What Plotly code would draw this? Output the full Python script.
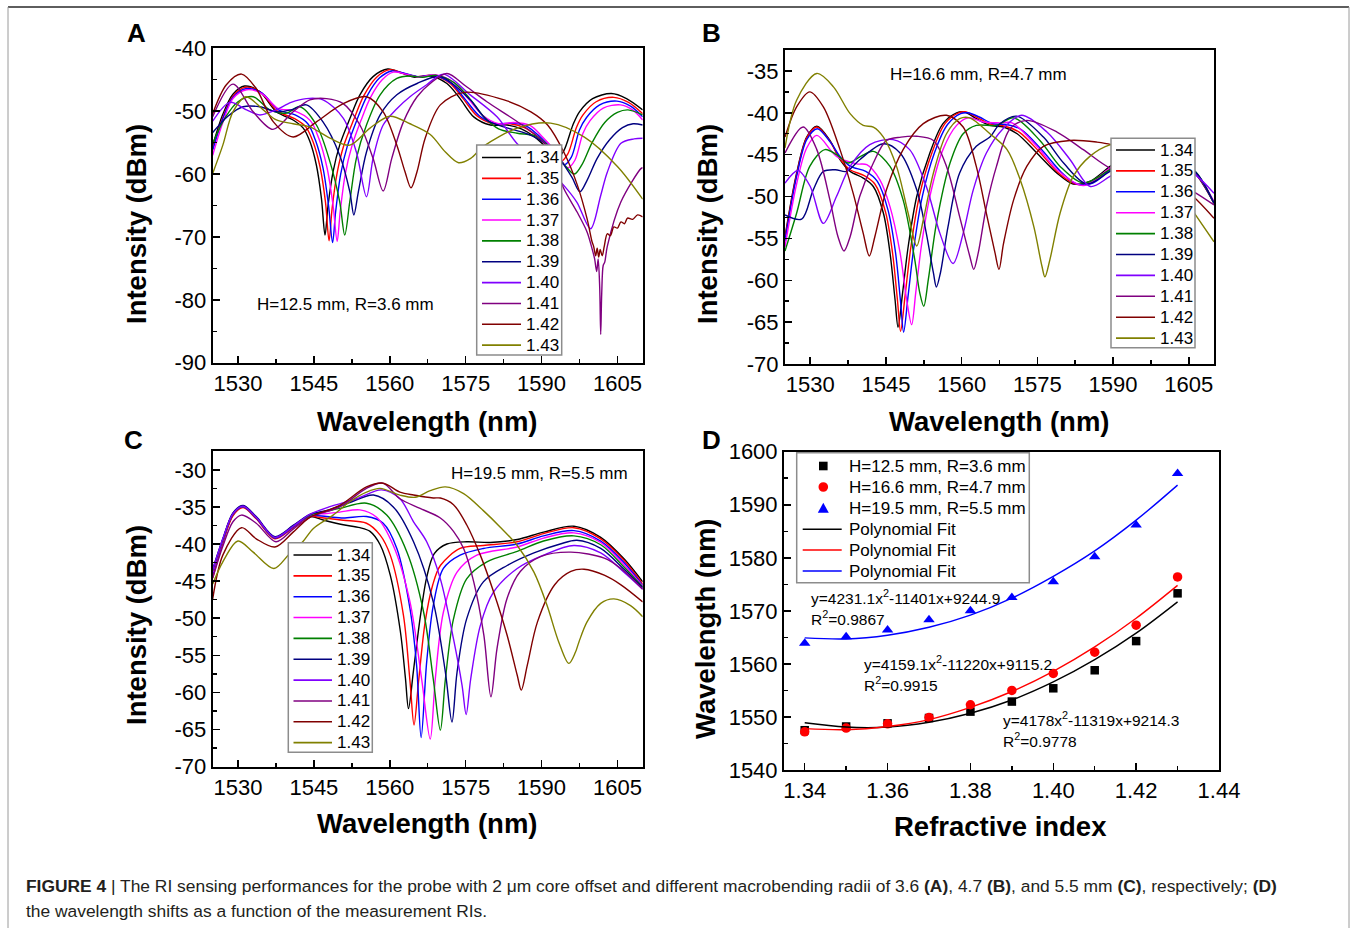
import plotly.graph_objects as go

W, H = 1356, 928
FONT = "Liberation Sans, Arial, Helvetica, sans-serif"

RI_LABELS = ["1.34", "1.35", "1.36", "1.37", "1.38", "1.39", "1.40", "1.41", "1.42", "1.43"]
COLORS = ["#000000", "#FF0000", "#0000FF", "#FF00FF", "#008000",
          "#000080", "#8000FF", "#800080", "#800000", "#808000"]

# ---------------- Panel A (H=12.5 mm, R=3.6 mm) ----------------
A134_x = [1525, 1527, 1529, 1531.3, 1534.3, 1537.6, 1540.9, 1542.9, 1544.2, 1545.5, 1546.5, 1547.2, 1547.8, 1548.8, 1550.1, 1552.1, 1554.1, 1556.7, 1559.6, 1562.5, 1565, 1568, 1571.3, 1573.9, 1576.6, 1579.9, 1583.2, 1586, 1588.5, 1591, 1593, 1594.4, 1596.2, 1597.5, 1600.1, 1603.8, 1606.8, 1610]
A134_y = [-55.5, -50.5, -47.3, -46.0, -46.9, -50.1, -51.4, -52.7, -54.8, -58.6, -63.9, -69.7, -65.0, -59.6, -55.4, -51.2, -47.4, -44.5, -43.3, -44.0, -44.6, -44.4, -45.6, -48.0, -50.9, -52.2, -52.2, -52.8, -54.0, -55.8, -57.5, -56.3, -52.2, -50.1, -48.0, -47.2, -48.0, -49.8]
A135_x = [1525, 1527, 1529, 1531.5, 1534.5, 1537.8, 1541.2, 1543.4, 1544.8, 1546.2, 1547.3, 1548.0, 1548.6, 1549.6, 1550.9, 1552.9, 1554.9, 1557.4, 1560.0, 1562.8, 1565.3, 1568.3, 1571.8, 1574.5, 1577.2, 1580.5, 1583.8, 1586.6, 1589.1, 1591.6, 1593.8, 1595.2, 1596.9, 1598.2, 1600.8, 1604.3, 1607.2, 1610]
A135_y = [-56.0, -51.0, -47.6, -46.2, -47.0, -50.0, -51.2, -52.5, -54.8, -58.8, -64.5, -70.6, -65.5, -59.8, -55.5, -51.3, -47.5, -44.6, -43.4, -44.0, -44.5, -44.3, -45.5, -48.0, -50.7, -52.0, -52.0, -52.6, -54.0, -56.0, -58.0, -56.8, -52.6, -50.6, -48.5, -47.8, -48.6, -50.4]
A136_x = [1525, 1527, 1529, 1531.7, 1534.7, 1538.0, 1541.3, 1543.8, 1545.3, 1546.8, 1547.9, 1548.7, 1549.3, 1550.3, 1551.6, 1553.5, 1555.5, 1558.0, 1560.4, 1563.0, 1565.6, 1568.6, 1572.2, 1575.0, 1577.8, 1581.0, 1584.3, 1587.1, 1589.6, 1592.2, 1594.5, 1595.9, 1597.5, 1598.9, 1601.5, 1604.9, 1607.6, 1610]
A136_y = [-56.2, -51.2, -47.8, -46.4, -47.1, -49.8, -50.6, -52.0, -54.6, -59.0, -65.0, -70.9, -66.0, -60.0, -55.6, -51.4, -47.6, -44.7, -43.6, -44.0, -44.5, -44.3, -45.6, -48.2, -50.8, -52.0, -51.9, -52.4, -54.0, -56.2, -58.5, -57.3, -53.0, -51.0, -49.0, -48.4, -49.2, -50.9]
A137_x = [1525, 1527, 1529, 1531.7, 1534.7, 1538.0, 1541.0, 1544.3, 1546.0, 1547.6, 1548.8, 1549.6, 1550.2, 1551.2, 1552.5, 1554.3, 1556.2, 1558.5, 1560.7, 1563.2, 1565.8, 1569.0, 1572.6, 1575.5, 1578.3, 1581.5, 1584.5, 1587.8, 1590.3, 1592.9, 1595.2, 1596.6, 1598.2, 1599.6, 1602.2, 1605.6, 1608.0, 1610]
A137_y = [-57.0, -51.8, -48.0, -46.6, -47.2, -49.6, -49.9, -51.5, -54.4, -59.0, -65.0, -70.7, -66.0, -60.0, -55.6, -51.5, -47.8, -45.0, -43.8, -44.1, -44.6, -44.2, -45.4, -48.0, -50.6, -52.0, -51.8, -52.3, -54.2, -56.5, -59.0, -57.8, -53.5, -51.5, -49.5, -49.0, -49.8, -51.4]
A138_x = [1525, 1527.5, 1530, 1533.0, 1536.3, 1539.6, 1542.2, 1545.5, 1548.2, 1550.1, 1551.1, 1552.1, 1553.4, 1555.4, 1558.1, 1561.4, 1564.0, 1566.5, 1569.3, 1572.8, 1575.8, 1578.5, 1581.5, 1585.2, 1589.0, 1592.0, 1594.5, 1596.5, 1598.0, 1600.0, 1602.5, 1605.0, 1607.1, 1610]
A138_y = [-55.1, -51.0, -48.5, -47.7, -49.8, -50.3, -49.3, -52.2, -58.1, -64.4, -69.7, -64.4, -57.5, -52.2, -47.4, -44.8, -44.4, -44.6, -44.3, -45.5, -48.0, -50.8, -52.8, -53.5, -54.0, -56.0, -58.5, -60.0, -58.5, -55.0, -51.8, -50.2, -49.8, -50.6]
A139_x = [1525, 1528, 1531.0, 1534.3, 1537.6, 1540.5, 1543.5, 1546.8, 1550.1, 1552.1, 1552.9, 1553.8, 1555.4, 1558.1, 1561.4, 1565.4, 1570.0, 1575.9, 1579.2, 1582.5, 1587.2, 1590.5, 1593.5, 1596.0, 1597.6, 1599.0, 1601.0, 1603.5, 1606.0, 1608.1, 1610]
A139_y = [-53.4, -50.8, -49.3, -49.3, -50.1, -49.8, -49.0, -51.7, -57.0, -62.8, -66.5, -62.8, -56.5, -50.6, -47.4, -45.6, -44.5, -48.2, -51.4, -52.5, -53.6, -55.0, -57.5, -60.5, -62.8, -61.0, -57.5, -54.5, -52.6, -52.0, -52.2]
A140_x = [1525, 1528.4, 1531.7, 1534.3, 1537.5, 1540.5, 1543.5, 1546.8, 1550.8, 1553.4, 1555.4, 1556.7, 1558.7, 1561.4, 1564.0, 1567.3, 1570.6, 1575.9, 1581.2, 1585.1, 1588.0, 1591.0, 1594.4, 1597.0, 1599.7, 1601.7, 1603.0, 1605.7, 1608.3, 1610]
A140_y = [-51.6, -48.6, -49.8, -50.6, -49.8, -48.6, -48.0, -48.2, -51.1, -56.5, -63.6, -57.5, -52.2, -49.6, -47.7, -45.8, -44.1, -47.4, -50.9, -55.1, -57.0, -59.0, -61.8, -64.5, -68.7, -63.4, -59.7, -55.1, -54.4, -54.3]
A141_x = [1525, 1529.0, 1533.0, 1536.9, 1540.9, 1544.2, 1547.5, 1550.8, 1554.1, 1556.7, 1558.7, 1560.4, 1562.7, 1565.4, 1568.0, 1571.3, 1575.0, 1579.2, 1585.8, 1591.0, 1594.4, 1597.0, 1599.0, 1600.0, 1600.5, 1600.9, 1601.2, 1601.5, 1601.7, 1601.9, 1602.2, 1602.5, 1603.0, 1605.7, 1609.7, 1610]
A141_y = [-50.9, -45.7, -50.1, -52.9, -50.1, -48.2, -48.0, -48.8, -52.2, -57.5, -62.7, -57.5, -51.7, -47.7, -45.6, -44.0, -46.0, -48.5, -52.0, -55.4, -62.3, -66.0, -69.2, -71.9, -73.5, -75.5, -73.5, -78.0, -85.5, -79.0, -74.5, -74.0, -71.5, -64.4, -59.1, -59.0]
A142_x = [1525, 1527.7, 1530.7, 1533.6, 1537.0, 1540.9, 1545.5, 1550.8, 1555.4, 1558.7, 1561.4, 1563.0, 1564.2, 1565.4, 1567.0, 1570.0, 1574.7, 1582.6, 1587.9, 1591.2, 1594.4, 1597.1, 1599.0, 1600.0, 1600.3, 1600.7, 1601.0, 1601.3, 1601.6, 1602.0, 1602.4, 1603.0, 1603.6, 1604.3, 1605.0, 1605.7, 1606.4, 1607.0, 1608.0, 1609.0, 1610]
A142_y = [-50.4, -45.8, -44.1, -46.4, -51.7, -54.1, -51.7, -48.8, -47.7, -50.1, -55.4, -59.6, -62.2, -59.6, -54.3, -49.0, -47.0, -48.2, -50.1, -52.2, -56.5, -61.8, -67.1, -70.8, -71.5, -73.0, -71.8, -73.2, -72.0, -73.0, -71.5, -69.5, -69.8, -68.4, -68.6, -67.6, -67.9, -67.0, -67.2, -66.5, -66.8]
A143_x = [1525, 1527.0, 1529.0, 1531.6, 1535.0, 1537.6, 1540.9, 1544.2, 1548.2, 1552.1, 1556.1, 1560.0, 1564.0, 1568.0, 1571.0, 1573.6, 1576.0, 1578.5, 1585.2, 1591.8, 1598.4, 1605.0, 1610]
A143_y = [-59.9, -55.4, -50.1, -47.7, -49.8, -51.4, -52.0, -52.5, -54.3, -55.4, -52.7, -50.8, -52.0, -53.7, -56.5, -58.2, -57.5, -55.6, -52.7, -51.9, -54.1, -58.8, -64.0]

# ---------------- Panel B (H=16.6 mm, R=4.7 mm) ----------------
B134_x = [1525, 1527.3, 1529.3, 1531.3, 1533.9, 1535.9, 1537.9, 1540.5, 1542.5, 1544.5, 1545.8, 1546.8, 1547.4, 1548.3, 1549.4, 1551.1, 1553.7, 1556.3, 1559.0, 1560.6, 1562.9, 1565.6, 1568.3, 1571.0, 1574.9, 1578.9, 1582.1, 1585.4, 1589.4, 1593.0, 1597.0, 1601.0, 1605.9, 1610]
B134_y = [-54.8, -47.2, -42.9, -41.6, -43.3, -45.6, -47.0, -47.8, -48.8, -52.0, -56.7, -62.3, -65.6, -61.5, -56.0, -50.0, -44.8, -41.3, -40.0, -39.9, -40.7, -41.5, -41.7, -42.5, -44.8, -47.2, -48.5, -48.2, -46.4, -45.0, -44.6, -45.3, -47.0, -50.8]
B135_x = [1525, 1527.3, 1529.3, 1531.3, 1533.9, 1535.9, 1537.9, 1540.7, 1542.8, 1544.9, 1546.3, 1547.3, 1547.9, 1548.8, 1549.9, 1551.6, 1554.1, 1556.7, 1559.4, 1560.9, 1563.2, 1565.9, 1568.6, 1571.4, 1575.3, 1579.2, 1582.5, 1585.7, 1589.6, 1593.2, 1597.2, 1601.2, 1606.0, 1610]
B135_y = [-55.0, -47.4, -43.0, -41.7, -43.4, -45.5, -46.8, -47.5, -48.5, -51.8, -56.7, -62.5, -66.1, -61.8, -56.2, -50.0, -44.8, -41.3, -40.0, -39.9, -40.6, -41.4, -41.6, -42.3, -44.6, -47.2, -48.5, -48.3, -46.5, -45.0, -44.6, -45.3, -47.0, -50.8]
B136_x = [1525, 1527.3, 1529.3, 1531.4, 1534.0, 1536.0, 1538.0, 1541.0, 1543.3, 1545.4, 1546.9, 1547.9, 1548.5, 1549.4, 1550.5, 1552.2, 1554.6, 1557.2, 1559.8, 1561.2, 1563.5, 1566.2, 1568.9, 1571.8, 1575.7, 1579.6, 1582.8, 1586.0, 1589.8, 1593.4, 1597.4, 1601.4, 1606.1, 1610]
B136_y = [-55.3, -47.6, -43.2, -41.9, -43.5, -45.3, -46.4, -47.0, -48.2, -51.6, -56.7, -62.6, -66.2, -61.8, -56.2, -50.0, -44.8, -41.4, -40.1, -40.0, -40.5, -41.3, -41.4, -42.0, -44.3, -47.0, -48.5, -48.4, -46.6, -45.1, -44.6, -45.3, -47.0, -50.8]
B137_x = [1525, 1527.3, 1529.3, 1531.3, 1535.2, 1539.2, 1541.2, 1543.8, 1545.8, 1547.8, 1549.1, 1550.1, 1550.9, 1552.0, 1553.7, 1556.3, 1559.0, 1561.3, 1564.3, 1567.6, 1570.0, 1574.9, 1578.9, 1584.1, 1589.4, 1593.6, 1597.6, 1601.6, 1606.2, 1610]
B137_y = [-56.0, -48.5, -44.2, -42.7, -45.2, -46.1, -46.2, -48.0, -51.2, -56.7, -62.3, -65.3, -61.5, -56.0, -50.0, -44.4, -41.5, -40.6, -41.1, -41.2, -41.2, -44.0, -46.8, -48.7, -46.6, -45.2, -44.7, -45.3, -47.0, -50.6]
B138_x = [1525, 1527.3, 1529.9, 1532.9, 1535.2, 1537.5, 1540.0, 1542.5, 1545.8, 1548.4, 1550.7, 1551.7, 1552.5, 1553.4, 1555.0, 1557.7, 1560.3, 1562.9, 1566.9, 1570.3, 1575.5, 1579.5, 1584.1, 1589.4, 1593.8, 1597.8, 1601.8, 1606.3, 1610]
B138_y = [-56.5, -52.0, -46.4, -44.4, -45.0, -46.0, -45.2, -44.6, -46.4, -50.4, -57.5, -61.5, -63.1, -59.9, -53.2, -46.0, -42.5, -41.5, -41.5, -40.6, -43.3, -46.4, -48.4, -46.8, -45.3, -44.8, -45.4, -47.0, -50.8]
B139_x = [1525, 1528.3, 1530.6, 1532.6, 1535.0, 1537.2, 1539.8, 1544.5, 1547.8, 1551.1, 1553.0, 1554.4, 1555.0, 1555.8, 1557.3, 1559.6, 1562.9, 1565.6, 1567.6, 1570.9, 1576.2, 1580.2, 1584.8, 1589.4, 1594.0, 1598.0, 1602.0, 1606.4, 1610]
B139_y = [-52.2, -52.7, -49.2, -47.0, -46.8, -47.0, -45.6, -43.7, -44.8, -49.2, -54.4, -59.1, -60.8, -59.1, -53.6, -47.2, -44.0, -42.9, -41.3, -40.4, -42.9, -46.0, -48.5, -47.0, -45.4, -44.9, -45.5, -47.1, -50.8]
B140_x = [1525, 1527.6, 1530.0, 1532.6, 1535.2, 1537.9, 1541.8, 1546.4, 1549.7, 1553.0, 1555.7, 1558.3, 1560.3, 1562.3, 1564.9, 1568.2, 1571.9, 1576.9, 1581.5, 1585.5, 1589.4, 1594.2, 1598.5, 1602.5, 1606.5, 1610]
B140_y = [-48.4, -46.9, -48.8, -53.2, -50.0, -46.4, -43.8, -43.2, -44.4, -48.8, -54.4, -58.0, -54.4, -49.2, -44.8, -41.9, -40.3, -42.3, -45.6, -48.8, -47.6, -46.0, -45.5, -46.0, -47.5, -49.6]
B141_x = [1525, 1528.6, 1531.3, 1533.9, 1535.5, 1536.7, 1537.9, 1539.8, 1542.5, 1545.1, 1548.0, 1551.1, 1554.4, 1557.0, 1559.6, 1561.6, 1562.4, 1563.3, 1564.9, 1566.9, 1569.6, 1572.9, 1578.9, 1584.1, 1589.4, 1594.5, 1599.0, 1602.5, 1605.9, 1610]
B141_y = [-44.8, -41.7, -44.4, -50.4, -54.8, -56.5, -54.8, -50.0, -46.0, -43.3, -42.9, -42.8, -43.3, -46.4, -52.4, -57.1, -58.7, -56.7, -51.2, -46.4, -41.9, -40.9, -42.3, -44.4, -46.6, -47.5, -47.8, -48.5, -49.4, -51.0]
B142_x = [1525, 1527.3, 1529.9, 1532.6, 1535.9, 1538.5, 1540.5, 1541.7, 1542.8, 1545.1, 1548.4, 1552.4, 1557.0, 1560.3, 1562.9, 1564.9, 1566.6, 1567.4, 1568.3, 1570.3, 1572.9, 1576.2, 1581.5, 1586.8, 1589.6, 1594.0, 1598.0, 1602.0, 1605.9, 1610]
B142_y = [-42.9, -39.3, -37.5, -39.3, -44.4, -49.6, -54.4, -57.1, -54.8, -49.2, -44.4, -41.3, -40.3, -41.7, -46.4, -52.0, -56.7, -58.7, -55.6, -50.4, -46.4, -44.0, -43.3, -43.5, -43.8, -44.8, -46.3, -48.2, -50.0, -52.6]
B143_x = [1525, 1527.3, 1531.3, 1534.6, 1537.9, 1540.5, 1542.5, 1544.5, 1547.1, 1549.4, 1551.1, 1552.4, 1554.4, 1557.0, 1559.6, 1561.6, 1565.6, 1569.0, 1571.6, 1574.3, 1575.9, 1576.5, 1577.5, 1579.5, 1582.1, 1585.4, 1589.5, 1593.0, 1597.0, 1601.5, 1605.9, 1610]
B143_y = [-44.2, -38.5, -35.3, -36.9, -40.1, -41.5, -41.7, -42.9, -46.4, -52.0, -55.9, -52.8, -47.2, -42.5, -40.7, -40.6, -42.5, -44.4, -48.0, -53.6, -58.3, -59.6, -57.5, -52.0, -47.6, -45.2, -43.8, -43.6, -45.0, -48.0, -51.8, -55.4]

# ---------------- Panel C (H=19.5 mm, R=5.5 mm) ----------------
C134_x = [1525, 1527.0, 1529.0, 1531.0, 1533.6, 1537.3, 1540.9, 1544.2, 1547.0, 1550.8, 1554.1, 1556.1, 1558.1, 1560.1, 1562.1, 1563.1, 1563.7, 1564.7, 1566.0, 1567.3, 1568.8, 1571.3, 1575.2, 1579.9, 1585.2, 1590.4, 1596.4, 1601.7, 1606.3, 1610]
C134_y = [-44.4, -39.7, -36.1, -35.0, -36.5, -39.2, -37.7, -36.3, -36.8, -37.4, -37.8, -38.3, -40.1, -44.2, -51.8, -58.1, -62.2, -57.0, -50.0, -44.5, -41.3, -40.0, -39.7, -39.8, -39.4, -38.4, -37.6, -39.1, -42.0, -45.1]
C135_x = [1525, 1527.0, 1529.0, 1531.0, 1533.6, 1537.3, 1540.9, 1544.2, 1547.0, 1550.8, 1555.4, 1558.1, 1560.1, 1562.7, 1564.0, 1564.8, 1565.7, 1567.0, 1568.5, 1570.0, 1573.9, 1578.5, 1585.2, 1590.4, 1596.4, 1601.7, 1606.3, 1610]
C135_y = [-44.6, -39.9, -36.2, -35.1, -36.6, -39.3, -37.8, -36.3, -36.5, -36.8, -37.2, -38.8, -41.5, -49.6, -58.5, -64.4, -58.5, -50.5, -45.5, -42.9, -40.6, -40.2, -39.7, -38.6, -37.8, -39.3, -42.2, -45.4]
C136_x = [1525, 1527.0, 1529.0, 1531.0, 1533.6, 1537.3, 1540.9, 1544.2, 1547.5, 1550.8, 1555.4, 1558.7, 1561.4, 1564.0, 1565.3, 1566.2, 1567.3, 1568.6, 1570.6, 1573.9, 1578.5, 1585.2, 1590.4, 1596.4, 1601.7, 1606.3, 1610]
C136_y = [-44.0, -39.6, -36.0, -35.0, -36.5, -39.2, -37.7, -36.2, -36.3, -36.5, -36.3, -37.2, -40.6, -48.7, -56.3, -66.1, -55.9, -48.3, -43.3, -41.5, -40.6, -40.0, -38.9, -38.2, -39.6, -42.5, -45.6]
C137_x = [1525, 1527.0, 1529.0, 1531.0, 1533.6, 1537.3, 1540.9, 1544.2, 1547.5, 1550.1, 1554.1, 1557.4, 1560.7, 1564.0, 1566.3, 1568.0, 1569.0, 1570.6, 1573.3, 1577.2, 1585.2, 1590.4, 1596.4, 1601.7, 1606.3, 1610]
C137_y = [-43.8, -39.5, -35.9, -34.9, -36.4, -39.1, -37.6, -36.1, -35.9, -35.7, -35.4, -36.4, -40.2, -47.8, -58.2, -66.3, -58.2, -49.2, -43.8, -41.5, -40.4, -39.2, -38.5, -39.8, -42.8, -45.7]
C138_x = [1525, 1527.0, 1529.0, 1531.0, 1533.6, 1537.3, 1540.9, 1544.2, 1547.5, 1550.1, 1555.4, 1559.4, 1563.4, 1566.7, 1568.6, 1570.0, 1571.0, 1572.6, 1575.2, 1579.2, 1585.2, 1590.4, 1596.4, 1601.7, 1606.3, 1610]
C138_y = [-43.6, -39.4, -35.9, -34.9, -36.4, -39.1, -37.6, -36.1, -35.6, -35.2, -34.5, -36.1, -41.1, -49.2, -58.2, -65.1, -58.2, -50.1, -44.7, -42.4, -41.0, -39.6, -38.9, -40.1, -43.1, -45.8]
C139_x = [1525, 1527.0, 1529.0, 1531.0, 1533.6, 1537.3, 1540.9, 1544.2, 1548.0, 1552.1, 1556.8, 1560.7, 1564.7, 1568.6, 1571.0, 1572.3, 1573.3, 1575.2, 1578.5, 1583.2, 1588.5, 1593.7, 1597.0, 1601.7, 1606.3, 1610]
C139_y = [-43.4, -39.3, -35.8, -34.8, -36.3, -39.0, -37.5, -36.0, -35.4, -34.4, -33.4, -35.0, -39.7, -47.8, -57.3, -64.0, -57.3, -50.1, -45.1, -42.9, -41.2, -40.0, -39.5, -40.6, -43.4, -45.9]
C140_x = [1525, 1527.0, 1529.0, 1531.0, 1533.6, 1537.3, 1540.9, 1544.2, 1548.0, 1553.4, 1558.4, 1562.0, 1564.7, 1567.3, 1570.0, 1572.6, 1574.3, 1575.1, 1576.0, 1577.9, 1580.5, 1585.2, 1590.4, 1596.4, 1601.7, 1606.3, 1610]
C140_y = [-43.5, -39.3, -35.9, -34.9, -36.4, -39.1, -37.6, -36.0, -35.0, -33.9, -32.7, -33.9, -37.0, -39.7, -44.7, -52.8, -59.1, -63.0, -58.2, -51.0, -46.5, -43.3, -41.5, -40.2, -41.2, -43.8, -46.1]
C141_x = [1525, 1527.0, 1529.0, 1530.7, 1533.6, 1537.5, 1540.9, 1544.2, 1550.1, 1555.4, 1558.6, 1562.0, 1566.0, 1570.0, 1572.6, 1574.6, 1576.6, 1578.6, 1580.0, 1581.2, 1583.2, 1585.8, 1589.8, 1595.8, 1602.4, 1605.7, 1610]
C141_y = [-44.6, -40.3, -37.0, -36.1, -37.2, -39.7, -38.0, -36.4, -35.0, -32.5, -31.8, -33.9, -35.2, -36.5, -38.3, -40.6, -45.1, -52.3, -60.6, -54.1, -47.3, -43.7, -41.7, -41.1, -41.9, -43.3, -46.1]
C142_x = [1525, 1527.0, 1530.7, 1533.6, 1537.3, 1540.9, 1544.2, 1550.1, 1555.4, 1558.7, 1562.0, 1564.7, 1568.6, 1570.0, 1572.6, 1575.2, 1577.9, 1580.5, 1583.2, 1585.2, 1586.0, 1587.2, 1589.2, 1592.6, 1595.8, 1598.4, 1602.4, 1605.7, 1610]
C142_y = [-47.4, -41.5, -37.8, -39.3, -40.4, -38.4, -36.4, -34.8, -32.3, -31.8, -33.0, -33.4, -33.8, -33.8, -34.7, -37.4, -41.5, -46.4, -52.3, -57.7, -59.7, -56.3, -50.5, -45.5, -43.7, -43.4, -44.2, -45.5, -47.8]
C143_x = [1525, 1527.0, 1530.0, 1533.0, 1537.1, 1540.2, 1542.8, 1544.9, 1548.8, 1552.1, 1555.4, 1558.1, 1562.0, 1565.0, 1568.0, 1571.0, 1574.6, 1578.5, 1581.8, 1585.2, 1588.5, 1591.1, 1593.4, 1595.4, 1596.7, 1597.4, 1599.0, 1601.7, 1604.3, 1607.6, 1610]
C143_y = [-45.4, -42.4, -39.6, -41.1, -43.3, -41.3, -39.7, -37.9, -36.1, -34.3, -33.0, -32.5, -33.4, -33.7, -32.8, -32.3, -33.2, -35.5, -37.7, -40.2, -43.8, -48.3, -53.2, -56.1, -54.6, -53.2, -50.5, -48.0, -47.4, -48.3, -49.8]

# ---------------- Panel D (dip wavelength vs RI) ----------------
D_RI = [1.34, 1.35, 1.36, 1.37, 1.38, 1.39, 1.40, 1.41, 1.42, 1.43]
D_WL_R36 = [1547.5, 1548.2, 1548.8, 1549.8, 1551.0, 1552.9, 1555.4, 1558.8, 1564.3, 1573.3]
D_WL_R47 = [1547.2, 1547.9, 1548.7, 1549.9, 1552.3, 1555.0, 1558.2, 1562.2, 1567.3, 1576.4]
D_WL_R55 = [1563.9, 1565.1, 1566.4, 1568.3, 1570.0, 1572.5, 1575.5, 1580.2, 1586.2, 1595.9]
D_FIT_R36 = [1548.9, 1548.1, 1548.1, 1549.0, 1550.7, 1553.2, 1556.6, 1560.8, 1565.8, 1571.7]
D_FIT_R47 = [1547.8, 1547.6, 1548.2, 1549.5, 1551.8, 1554.8, 1558.6, 1563.2, 1568.6, 1574.8]
D_FIT_R55 = [1564.9, 1564.7, 1565.4, 1566.9, 1569.2, 1572.4, 1576.5, 1581.3, 1587.1, 1593.7]
D_SERIES_NAMES = ["H=12.5 mm, R=3.6 mm", "H=16.6 mm, R=4.7 mm", "H=19.5 mm, R=5.5 mm"]
D_FIT_NAME = "Polynomial Fit"

# ---------------- Tick labels ----------------
WL_TICKS = [1530, 1545, 1560, 1575, 1590, 1605]
WL_TICK_TEXT = ["1530", "1545", "1560", "1575", "1590", "1605"]
WL_MINOR = [1537.5, 1552.5, 1567.5, 1582.5, 1597.5]
A_YTICKS = [-90, -80, -70, -60, -50, -40]
A_YTICK_TEXT = ["-90", "-80", "-70", "-60", "-50", "-40"]
A_YMINOR = [-85, -75, -65, -55, -45]
B_YTICKS = [-70, -65, -60, -55, -50, -45, -40, -35]
B_YTICK_TEXT = ["-70", "-65", "-60", "-55", "-50", "-45", "-40", "-35"]
B_YMINOR = [-67.5, -62.5, -57.5, -52.5, -47.5, -42.5, -37.5, -32.5]
C_YTICKS = [-70, -65, -60, -55, -50, -45, -40, -35, -30]
C_YTICK_TEXT = ["-70", "-65", "-60", "-55", "-50", "-45", "-40", "-35", "-30"]
C_YMINOR = [-67.5, -62.5, -57.5, -52.5, -47.5, -42.5, -37.5, -32.5, -27.5]
D_XTICKS = [1.34, 1.36, 1.38, 1.40, 1.42, 1.44]
D_XTICK_TEXT = ["1.34", "1.36", "1.38", "1.40", "1.42", "1.44"]
D_XMINOR = [1.35, 1.37, 1.39, 1.41, 1.43]
D_YTICKS = [1540, 1550, 1560, 1570, 1580, 1590, 1600]
D_YTICK_TEXT = ["1540", "1550", "1560", "1570", "1580", "1590", "1600"]
D_YMINOR = [1545, 1555, 1565, 1575, 1585, 1595]

A_X = [A134_x, A135_x, A136_x, A137_x, A138_x, A139_x, A140_x, A141_x, A142_x, A143_x]
A_Y = [A134_y, A135_y, A136_y, A137_y, A138_y, A139_y, A140_y, A141_y, A142_y, A143_y]
B_X = [B134_x, B135_x, B136_x, B137_x, B138_x, B139_x, B140_x, B141_x, B142_x, B143_x]
B_Y = [B134_y, B135_y, B136_y, B137_y, B138_y, B139_y, B140_y, B141_y, B142_y, B143_y]
C_X = [C134_x, C135_x, C136_x, C137_x, C138_x, C139_x, C140_x, C141_x, C142_x, C143_x]
C_Y = [C134_y, C135_y, C136_y, C137_y, C138_y, C139_y, C140_y, C141_y, C142_y, C143_y]


def px(x):
    return x / W


def py(y):
    return 1 - y / H


fig = go.Figure()

panels = [("x", "y", A_X, A_Y), ("x2", "y2", B_X, B_Y), ("x3", "y3", C_X, C_Y)]
for xa, ya, XS, YS in panels:
    for i in range(10):
        fig.add_trace(go.Scatter(
            x=XS[i], y=YS[i], mode="lines", name=RI_LABELS[i],
            line=dict(color=COLORS[i], width=1.4, shape="spline", smoothing=0.9),
            xaxis=xa, yaxis=ya, showlegend=False))

D_MARKERS = [("square", "#000000", 8.5), ("circle", "#FF0000", 9.5), ("triangle-up", "#0000FF", 10)]
D_FIT_COLORS = ["#000000", "#FF0000", "#0000FF"]
for (sym, col, sz), vals, nm in zip(D_MARKERS, [D_WL_R36, D_WL_R47, D_WL_R55], D_SERIES_NAMES):
    fig.add_trace(go.Scatter(x=D_RI, y=vals, mode="markers", name=nm,
                             marker=dict(symbol=sym, color=col, size=sz),
                             xaxis="x4", yaxis="y4", showlegend=False))
for col, vals in zip(D_FIT_COLORS, [D_FIT_R36, D_FIT_R47, D_FIT_R55]):
    fig.add_trace(go.Scatter(x=D_RI, y=vals, mode="lines", name=D_FIT_NAME,
                             line=dict(color=col, width=1.4, shape="spline"),
                             xaxis="x4", yaxis="y4", showlegend=False))

tickfont = dict(family=FONT, size=22, color="black")


def axis_common():
    return dict(showline=True, linecolor="black", linewidth=2, mirror=True,
                ticks="inside", ticklen=7, tickwidth=1.5, tickcolor="black",
                showgrid=False, zeroline=False, tickfont=tickfont, tickmode="array",
                automargin=False)


def minor(vals):
    return dict(tickmode="array", tickvals=vals, ticks="inside", ticklen=4,
                tickwidth=1.5, tickcolor="black", showgrid=False)


A_dom_x = [px(212.7), px(642.7)]
B_dom_x = [px(785), px(1214)]
D_dom_x = [px(784), px(1219)]

fig.update_layout(
    xaxis=dict(**axis_common(), domain=A_dom_x, range=[1525, 1610], tickvals=WL_TICKS,
               ticktext=WL_TICK_TEXT, minor=minor(WL_MINOR), anchor="y"),
    yaxis=dict(**axis_common(), domain=[py(362.7), py(48.3)], range=[-90, -40],
               tickvals=A_YTICKS, ticktext=A_YTICK_TEXT, minor=minor(A_YMINOR), anchor="x"),
    xaxis2=dict(**axis_common(), domain=B_dom_x, range=[1525, 1610], tickvals=WL_TICKS,
                ticktext=WL_TICK_TEXT, minor=minor(WL_MINOR), anchor="y2"),
    yaxis2=dict(**axis_common(), domain=[py(364), py(50)], range=[-70, -32.5],
                tickvals=B_YTICKS, ticktext=B_YTICK_TEXT, minor=minor(B_YMINOR), anchor="x2"),
    xaxis3=dict(**axis_common(), domain=A_dom_x, range=[1525, 1610], tickvals=WL_TICKS,
                ticktext=WL_TICK_TEXT, minor=minor(WL_MINOR), anchor="y3"),
    yaxis3=dict(**axis_common(), domain=[py(766.5), py(451.3)], range=[-70, -27.5],
                tickvals=C_YTICKS, ticktext=C_YTICK_TEXT, minor=minor(C_YMINOR), anchor="x3"),
    xaxis4=dict(**axis_common(), domain=D_dom_x, range=[1.335, 1.44], tickvals=D_XTICKS,
                ticktext=D_XTICK_TEXT, minor=minor(D_XMINOR), anchor="y4"),
    yaxis4=dict(**axis_common(), domain=[py(770), py(451.7)], range=[1540, 1600],
                tickvals=D_YTICKS, ticktext=D_YTICK_TEXT, minor=minor(D_YMINOR), anchor="x4"),
)

ann = []
shapes = []


def text(x, y, s, size, bold=False, angle=0, xanchor="center", color="black"):
    ann.append(dict(x=px(x), y=py(y), xref="paper", yref="paper", text=(f"<b>{s}</b>" if bold else s),
                    showarrow=False, textangle=angle, xanchor=xanchor, yanchor="middle",
                    font=dict(family=FONT, size=size, color=color)))


def box(x0, y0, x1, y1, color="#8c8c8c", width=1.5):
    shapes.append(dict(type="rect", xref="paper", yref="paper", x0=px(x0), x1=px(x1), y0=py(y1), y1=py(y0),
                       line=dict(color=color, width=width), fillcolor="white", layer="above"))


def hline(x0, x1, y, color, width=1.6):
    shapes.append(dict(type="line", xref="paper", yref="paper", x0=px(x0), x1=px(x1), y0=py(y), y1=py(y),
                       line=dict(color=color, width=width), layer="above"))


# ---- legends (drawn as framed keys) ----
def ri_legend(bx0, by0, bx1, by1, line_x0, line_x1, text_x, row0, step):
    box(bx0, by0, bx1, by1)
    for i, lab in enumerate(RI_LABELS):
        yy = row0 + i * step
        hline(line_x0, line_x1, yy, COLORS[i])
        text(text_x, yy, lab, 17, xanchor="left")


ri_legend(476.7, 145, 561.7, 355, 482, 521, 524, 157.5, 20.85)
ri_legend(1111, 138.3, 1195, 347.7, 1116, 1155, 1158, 150, 20.9)
ri_legend(288.3, 542.7, 372.3, 752.3, 293.5, 332, 335, 555, 20.85)

# legend D
box(796.7, 452.7, 1029.3, 582.7)
D_ROWS = [466, 487, 508.3, 529.3, 550, 571]
sq = 4.3
shapes.append(dict(type="rect", xref="paper", yref="paper", x0=px(823.3 - sq), x1=px(823.3 + sq),
                   y0=py(D_ROWS[0] + sq), y1=py(D_ROWS[0] - sq), fillcolor="#000000",
                   line=dict(width=0), layer="above"))
shapes.append(dict(type="circle", xref="paper", yref="paper", x0=px(823.3 - 4.8), x1=px(823.3 + 4.8),
                   y0=py(D_ROWS[1] + 4.8), y1=py(D_ROWS[1] - 4.8), fillcolor="#FF0000",
                   line=dict(width=0), layer="above"))
tx, ty = 823.3, D_ROWS[2]
shapes.append(dict(type="path", xref="paper", yref="paper",
                   path=f"M {px(tx - 5.5)},{py(ty + 4.5)} L {px(tx + 5.5)},{py(ty + 4.5)} L {px(tx)},{py(ty - 5.5)} Z",
                   fillcolor="#0000FF", line=dict(width=0), layer="above"))
for k in range(3):
    text(846.5, D_ROWS[k], D_SERIES_NAMES[k], 17, xanchor="left")
    hline(802.7, 841.7, D_ROWS[3 + k], D_FIT_COLORS[k], width=1.4)
    text(846.5, D_ROWS[3 + k], D_FIT_NAME, 17, xanchor="left")

# panel letters
text(136, 33, "A", 26, bold=True)
text(711, 33, "B", 26, bold=True)
text(133, 440, "C", 26, bold=True)
text(711, 440, "D", 26, bold=True)
# axis titles
text(136, 224, "Intensity (dBm)", 27.5, bold=True, angle=-90)
text(427, 421, "Wavelength (nm)", 27.5, bold=True)
text(707, 224, "Intensity (dBm)", 27.5, bold=True, angle=-90)
text(999, 421, "Wavelength (nm)", 27.5, bold=True)
text(136, 625, "Intensity (dBm)", 27.5, bold=True, angle=-90)
text(427, 823, "Wavelength (nm)", 27.5, bold=True)
text(705, 629, "Wavelength (nm)", 27.5, bold=True, angle=-90)
text(1001, 826, "Refractive index", 27.5, bold=True)
# in-panel labels
text(345, 304, "H=12.5 mm, R=3.6 mm", 17)
text(978, 74, "H=16.6 mm, R=4.7 mm", 17)
text(539, 473, "H=19.5 mm, R=5.5 mm", 17)
# fit equations
text(809, 597, "y=4231.1x<sup>2</sup>-11401x+9244.9", 15.5, xanchor="left")
text(809, 618, "R<sup>2</sup>=0.9867", 15.5, xanchor="left")
text(862, 663, "y=4159.1x<sup>2</sup>-11220x+9115.2", 15.5, xanchor="left")
text(862, 684, "R<sup>2</sup>=0.9915", 15.5, xanchor="left")
text(1001, 719, "y=4178x<sup>2</sup>-11319x+9214.3", 15.5, xanchor="left")
text(1001, 740, "R<sup>2</sup>=0.9778", 15.5, xanchor="left")
# caption
text(24, 886, "<b>FIGURE 4</b> | The RI sensing performances for the probe with 2 μm core offset and different "
     "macrobending radii of 3.6 <b>(A)</b>, 4.7 <b>(B)</b>, and 5.5 mm <b>(C)</b>, respectively; <b>(D)</b>",
     17.4, xanchor="left", color="#231f20")
text(24, 911, "the wavelength shifts as a function of the measurement RIs.", 17.4, xanchor="left",
     color="#231f20")

# outer figure frame (top, left, right)
shapes.append(dict(type="line", xref="paper", yref="paper", x0=px(8), x1=px(1349), y0=py(7), y1=py(7),
                   line=dict(color="#5e5e5e", width=2), layer="below"))
shapes.append(dict(type="line", xref="paper", yref="paper", x0=px(8), x1=px(8), y0=py(7), y1=0,
                   line=dict(color="#9a9a9a", width=1), layer="below"))
shapes.append(dict(type="line", xref="paper", yref="paper", x0=px(1349), x1=px(1349), y0=py(7), y1=0,
                   line=dict(color="#9a9a9a", width=1), layer="below"))

fig.update_layout(
    annotations=ann, shapes=shapes, showlegend=False,
    width=W, height=H, margin=dict(l=0, r=0, t=0, b=0, pad=0, autoexpand=False),
    paper_bgcolor="white", plot_bgcolor="white",
    font=dict(family=FONT, color="black"),
)

fig.write_html("out.html",
               config={"displayModeBar": False, "staticPlot": True},
               post_script="document.body.style.margin='0px';document.body.style.padding='0px';"
                           "document.documentElement.style.overflow='hidden';")
